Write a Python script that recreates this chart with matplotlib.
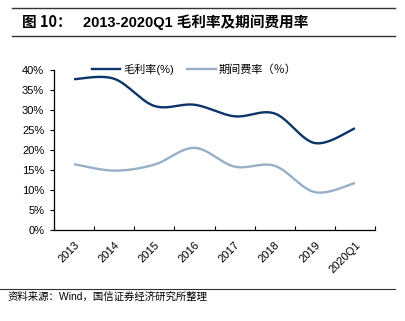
import numpy as np
import matplotlib
matplotlib.use("Agg")
import matplotlib.pyplot as plt
from matplotlib.lines import Line2D

plt.rcParams["font.family"] = ["Liberation Sans", "Noto Sans CJK SC", "DejaVu Sans"]

periods = ["2013", "2014", "2015", "2016", "2017", "2018", "2019", "2020Q1"]
gross_margin = [37.7, 37.8, 31.0, 31.3, 28.4, 29.1, 21.7, 25.4]
expense_ratio = [16.4, 14.8, 16.3, 20.5, 15.8, 16.0, 9.4, 11.7]
y_ticks = [0, 5, 10, 15, 20, 25, 30, 35, 40]

DARK = "#0c3466"
LIGHT = "#98afc6"


def smooth_curve(xs, ys, steps=40):
    # Catmull-Rom style cubic Bezier through every point (Excel "smoothed line")
    xs = np.asarray(xs, float)
    ys = np.asarray(ys, float)
    px = np.concatenate([[xs[0]], xs, [xs[-1]]])
    py = np.concatenate([[ys[0]], ys, [ys[-1]]])
    out_x, out_y = [], []
    t = np.linspace(0, 1, steps)
    for i in range(1, len(px) - 2):
        p0 = np.array([px[i], py[i]])
        p3 = np.array([px[i + 1], py[i + 1]])
        c1 = p0 + (np.array([px[i + 1], py[i + 1]]) - np.array([px[i - 1], py[i - 1]])) / 6
        c2 = p3 - (np.array([px[i + 2], py[i + 2]]) - np.array([px[i], py[i]])) / 6
        b = ((1 - t) ** 3)[:, None] * p0 + (3 * (1 - t) ** 2 * t)[:, None] * c1 \
            + (3 * (1 - t) * t ** 2)[:, None] * c2 + (t ** 3)[:, None] * p3
        out_x.extend(b[:, 0])
        out_y.extend(b[:, 1])
    return np.array(out_x), np.array(out_y)


fig = plt.figure(figsize=(4.05, 3.21), dpi=100)
ax = fig.add_axes([54 / 405, 1 - 229.7 / 321, 321 / 405, 159.7 / 321])

x = np.arange(len(periods))
gx, gy = smooth_curve(x, gross_margin)
ex, ey = smooth_curve(x, expense_ratio)
ax.plot(gx, gy, color=DARK, lw=1.7, solid_capstyle="butt")
ax.plot(ex, ey, color=LIGHT, lw=1.7, solid_capstyle="butt")

ax.set_xlim(-0.5, len(periods) - 0.5)
ax.set_ylim(0, 40)
ax.set_yticks(y_ticks)
ax.set_yticklabels([f"{v}%" for v in y_ticks], fontsize=8)
ax.set_xticks(np.arange(len(periods) + 1) - 0.5)
ax.set_xticklabels([])
ax.set_xticks(x, minor=True)
ax.set_xticklabels(periods, minor=True, rotation=45, ha="right",
                   rotation_mode="anchor", fontsize=8)
ax.tick_params(axis="x", which="major", direction="in", length=3, width=0.8)
ax.tick_params(axis="x", which="minor", length=0, pad=7)
ax.tick_params(axis="y", direction="out", length=3, width=0.8, pad=4)
for side in ["top", "right"]:
    ax.spines[side].set_visible(False)
for side in ["left", "bottom"]:
    ax.spines[side].set_linewidth(0.9)

handles = [Line2D([], [], color=DARK, lw=1.7), Line2D([], [], color=LIGHT, lw=1.7)]
fig.legend(handles, ["毛利率(%)", "期间费率（％）"], loc="center left",
           bbox_to_anchor=(86 / 405, 1 - 69 / 321), ncol=2, frameon=False,
           fontsize=8, handlelength=2.6, handletextpad=0.3, columnspacing=1.1,
           borderpad=0)

# header and footer rules
fig.add_artist(Line2D([12 / 405, 395 / 405], [1 - 8.3 / 321] * 2, color="#333333", lw=1.0))
fig.add_artist(Line2D([12 / 405, 395 / 405], [1 - 36 / 321] * 2, color="#333333", lw=1.0))
fig.add_artist(Line2D([0, 395 / 405], [1 - 289 / 321] * 2, color="#333333", lw=0.8))

fig.text(22 / 405, 1 - 22.5 / 321, "图 10：", fontsize=10.5, fontweight="bold",
         va="center", family=["Noto Sans CJK SC"])
fig.text(83 / 405, 1 - 22.5 / 321, "2013-2020Q1 毛利率及期间费用率", fontsize=10.5,
         fontweight="bold", va="center")
fig.text(8 / 405, 1 - 297 / 321, "资料来源：Wind，国信证券经济研究所整理", fontsize=7.5,
         va="center")

fig.savefig("out.png", dpi=100)
